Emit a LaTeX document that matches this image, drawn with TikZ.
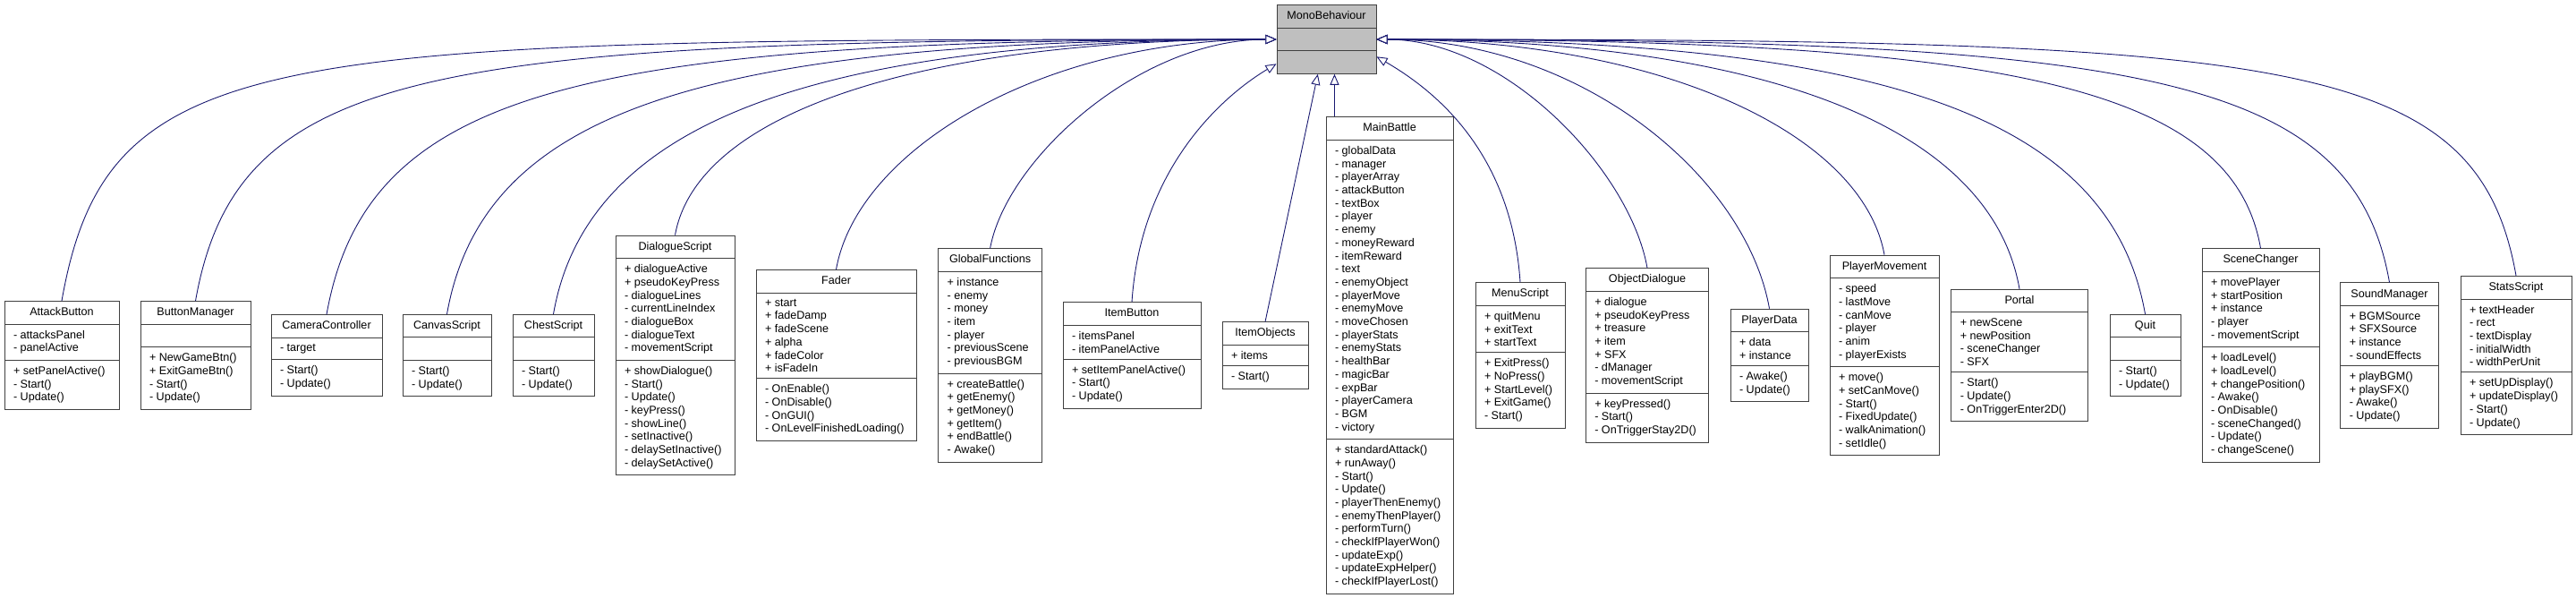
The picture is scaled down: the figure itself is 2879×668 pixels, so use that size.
\documentclass[tikz,border=0pt]{standalone}
\usepackage{fontspec}
\setmainfont{Liberation Sans}
\usepackage{xcolor}
\usetikzlibrary{arrows.meta,shapes.multipart}

\definecolor{doxyblue}{RGB}{25,25,112}
\newcommand\umlfont{\fontsize{12.6}{14.7}\selectfont}
\newcommand\blankpart{\vphantom{()}}

\begin{document}
\begin{tikzpicture}[x=1pt,y=-1pt,
    umlbox/.style={draw=black!75,line width=1pt,fill=white,rectangle split,
        rectangle split parts=3,rectangle split part align={center,left,left},
        align=left,font=\umlfont,inner xsep=10pt,inner ysep=6.4pt},
    basebox/.style={umlbox,fill=black!25},
    inherit/.style={draw=doxyblue,line width=0.9pt,
        -{Triangle[length=12pt,width=10pt,fill=white]}}
]
\useasboundingbox (0,0) rectangle (2879,668);

% base class
\node[basebox,minimum width=111pt] (mono) at (1482.5,44)
    {\blankpart MonoBehaviour\nodepart{two}\blankpart\nodepart{three}\blankpart};

% derived classes, left of the base
\node[umlbox,minimum width=128pt] (attack) at (69,397)
    {\blankpart AttackButton\nodepart{two}- attacksPanel\\- panelActive
     \nodepart{three}+ setPanelActive()\\- Start()\\- Update()};
\node[umlbox,minimum width=123pt] (btnmgr) at (218.5,397)
    {\blankpart ButtonManager\nodepart{two}\blankpart
     \nodepart{three}+ NewGameBtn()\\+ ExitGameBtn()\\- Start()\\- Update()};
\node[umlbox,minimum width=124pt] (camera) at (365,397)
    {\blankpart CameraController\nodepart{two}- target
     \nodepart{three}- Start()\\- Update()};
\node[umlbox,minimum width=99pt] (canvas) at (499.5,397)
    {\blankpart CanvasScript\nodepart{two}\blankpart
     \nodepart{three}- Start()\\- Update()};
\node[umlbox,minimum width=91pt] (chest) at (618.5,397)
    {\blankpart ChestScript\nodepart{two}\blankpart
     \nodepart{three}- Start()\\- Update()};
\node[umlbox,minimum width=133pt] (dialogue) at (754.5,397)
    {\blankpart DialogueScript\nodepart{two}+ dialogueActive\\+ pseudoKeyPress\\- dialogueLines\\- currentLineIndex\\- dialogueBox\\- dialogueText\\- movementScript
     \nodepart{three}+ showDialogue()\\- Start()\\- Update()\\- keyPress()\\- showLine()\\- setInactive()\\- delaySetInactive()\\- delaySetActive()};
\node[umlbox,minimum width=179pt] (fader) at (934.5,397)
    {\blankpart Fader\nodepart{two}+ start\\+ fadeDamp\\+ fadeScene\\+ alpha\\+ fadeColor\\+ isFadeIn
     \nodepart{three}- OnEnable()\\- OnDisable()\\- OnGUI()\\- OnLevelFinishedLoading()};
\node[umlbox,minimum width=116pt] (globalfn) at (1106.6,397)
    {\blankpart GlobalFunctions\nodepart{two}+ instance\\- enemy\\- money\\- item\\- player\\- previousScene\\- previousBGM
     \nodepart{three}+ createBattle()\\+ getEnemy()\\+ getMoney()\\+ getItem()\\+ endBattle()\\- Awake()};
\node[umlbox,minimum width=154pt] (itembtn) at (1265,397)
    {\blankpart ItemButton\nodepart{two}- itemsPanel\\- itemPanelActive
     \nodepart{three}+ setItemPanelActive()\\- Start()\\- Update()};
\node[umlbox,minimum width=96pt] (itemobj) at (1414,397)
    {\blankpart ItemObjects\nodepart{two}+ items
     \nodepart{three}- Start()};

% derived classes, below and right of the base
\node[umlbox,minimum width=142pt] (battle) at (1553,397)
    {\blankpart MainBattle\nodepart{two}- globalData\\- manager\\- playerArray\\- attackButton\\- textBox\\- player\\- enemy\\- moneyReward\\- itemReward\\- text\\- enemyObject\\- playerMove\\- enemyMove\\- moveChosen\\- playerStats\\- enemyStats\\- healthBar\\- magicBar\\- expBar\\- playerCamera\\- BGM\\- victory
     \nodepart{three}+ standardAttack()\\+ runAway()\\- Start()\\- Update()\\- playerThenEnemy()\\- enemyThenPlayer()\\- performTurn()\\- checkIfPlayerWon()\\- updateExp()\\- updateExpHelper()\\- checkIfPlayerLost()};
\node[umlbox,minimum width=100pt] (menu) at (1699,397)
    {\blankpart MenuScript\nodepart{two}+ quitMenu\\+ exitText\\+ startText
     \nodepart{three}+ ExitPress()\\+ NoPress()\\+ StartLevel()\\+ ExitGame()\\- Start()};
\node[umlbox,minimum width=137.5pt] (objdlg) at (1841,397)
    {\blankpart ObjectDialogue\nodepart{two}+ dialogue\\+ pseudoKeyPress\\+ treasure\\+ item\\+ SFX\\- dManager\\- movementScript
     \nodepart{three}+ keyPressed()\\- Start()\\- OnTriggerStay2D()};
\node[umlbox,minimum width=87pt] (pdata) at (1977.5,397)
    {\blankpart PlayerData\nodepart{two}+ data\\+ instance
     \nodepart{three}- Awake()\\- Update()};
\node[umlbox,minimum width=122pt] (pmove) at (2106,397)
    {\blankpart PlayerMovement\nodepart{two}- speed\\- lastMove\\- canMove\\- player\\- anim\\- playerExists
     \nodepart{three}+ move()\\+ setCanMove()\\- Start()\\- FixedUpdate()\\- walkAnimation()\\- setIdle()};
\node[umlbox,minimum width=152.5pt] (portal) at (2257,397)
    {\blankpart Portal\nodepart{two}+ newScene\\+ newPosition\\- sceneChanger\\- SFX
     \nodepart{three}- Start()\\- Update()\\- OnTriggerEnter2D()};
\node[umlbox,minimum width=79pt] (quit) at (2397.5,397)
    {\blankpart Quit\nodepart{two}\blankpart
     \nodepart{three}- Start()\\- Update()};
\node[umlbox,minimum width=131pt] (scene) at (2526.5,397)
    {\blankpart SceneChanger\nodepart{two}+ movePlayer\\+ startPosition\\+ instance\\- player\\- movementScript
     \nodepart{three}+ loadLevel()\\+ loadLevel()\\+ changePosition()\\- Awake()\\- OnDisable()\\- sceneChanged()\\- Update()\\- changeScene()};
\node[umlbox,minimum width=109.5pt] (sound) at (2670.5,397)
    {\blankpart SoundManager\nodepart{two}+ BGMSource\\+ SFXSource\\+ instance\\- soundEffects
     \nodepart{three}+ playBGM()\\+ playSFX()\\- Awake()\\- Update()};
\node[umlbox,minimum width=124pt] (stats) at (2812,397)
    {\blankpart StatsScript\nodepart{two}+ textHeader\\- rect\\- textDisplay\\- initialWidth\\- widthPerUnit
     \nodepart{three}+ setUpDisplay()\\+ updateDisplay()\\- Start()\\- Update()};

% inheritance edges
\draw[inherit] (attack.north) .. controls +(51,-289) and +(-1127,0) .. (mono.west);
\draw[inherit] (btnmgr.north) .. controls +(47,-265) and +(-941,0) .. (mono.west);
\draw[inherit] (camera.north) .. controls +(45,-253) and +(-775,0) .. (mono.west);
\draw[inherit] (canvas.north) .. controls +(41,-231) and +(-635,0) .. (mono.west);
\draw[inherit] (chest.north) .. controls +(37,-212) and +(-522,0) .. (mono.west);
\draw[inherit] (dialogue.north) .. controls +(24,-135) and +(-404,0) .. (mono.west);
\draw[inherit] (fader.north) .. controls +(23,-132) and +(-266,0) .. (mono.west);
\draw[inherit] (globalfn.north) .. controls +(18,-99) and +(-154,0) .. (mono.west);
\draw[inherit] (itembtn.north) .. controls +(10,-150) and +(-60,36) .. (mono.206);
\draw[inherit] (itemobj.north) -- (mono.256);
\draw[inherit] (mono.283 |- battle.north) -- (mono.283);
\draw[inherit] (menu.north) .. controls +(-10,-150) and +(60,35) .. (mono.-19);
\draw[inherit] (objdlg.north) .. controls +(-19,-108) and +(145,0) .. (mono.east);
\draw[inherit] (pdata.north) .. controls +(-26,-147) and +(229,0) .. (mono.east);
\draw[inherit] (pmove.north) .. controls +(-24,-134) and +(321,0) .. (mono.east);
\draw[inherit] (portal.north) .. controls +(-31,-178) and +(442,0) .. (mono.east);
\draw[inherit] (quit.north) .. controls +(-39,-220) and +(569,0) .. (mono.east);
\draw[inherit] (scene.north) .. controls +(-32,-183) and +(698,0) .. (mono.east);
\draw[inherit] (sound.north) .. controls +(-41,-233) and +(854,0) .. (mono.east);
\draw[inherit] (stats.north) .. controls +(-44,-247) and +(1020,0) .. (mono.east);
\end{tikzpicture}
\end{document}
